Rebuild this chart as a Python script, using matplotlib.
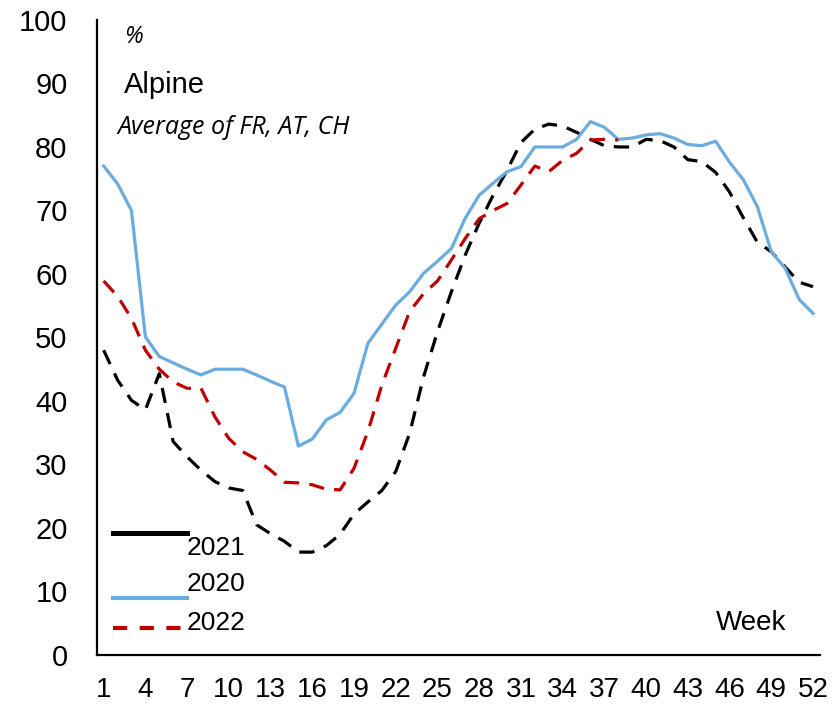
import matplotlib
matplotlib.use("Agg")
import matplotlib.pyplot as plt
from matplotlib.lines import Line2D
from matplotlib import font_manager

# ---------------- data ----------------
weeks = list(range(1, 53))
tick_weeks = [1, 4, 7, 10, 13, 16, 19, 22, 25, 28, 31, 34, 37, 40, 43, 46, 49, 52]
y_ticks = [0, 10, 20, 30, 40, 50, 60, 70, 80, 90, 100]

s2021 = [48.0, 43.3, 40.1, 38.6, 44.3, 33.6, 31.2, 29.1, 27.3, 26.3,
         25.9, 20.5, 19.1, 17.9, 16.2, 16.2, 17.2, 19.0, 22.2, 24.1,
         25.9, 28.9, 34.9, 43.8, 50.9, 57.2, 63.0, 68.0, 72.4, 76.3,
         80.7, 82.8, 83.6, 83.3, 82.3, 81.2, 80.2, 80.0, 80.0, 81.2,
         81.0, 80.0, 78.0, 77.7, 76.0, 72.9, 68.8, 65.0, 63.5, 61.1,
         58.7, 58.0]

s2020 = [77.0, 74.2, 70.0, 50.1, 47.0, 46.0, 45.0, 44.1, 45.0, 45.0,
         45.0, 44.1, 43.1, 42.2, 32.9, 34.0, 37.0, 38.2, 41.2, 49.1,
         52.1, 55.1, 57.2, 60.1, 62.0, 64.0, 68.8, 72.4, 74.3, 76.1,
         76.9, 80.0, 80.0, 80.0, 81.2, 84.0, 83.1, 81.2, 81.4, 81.9,
         82.1, 81.4, 80.4, 80.2, 80.9, 77.6, 74.8, 70.6, 63.5, 60.9,
         56.0, 53.8]

s2022 = [58.9, 56.5, 53.0, 48.0, 45.0, 43.0, 42.0, 42.0, 37.5, 34.1,
         32.0, 30.8, 29.1, 27.2, 27.1, 26.8, 26.1, 26.0, 29.4, 35.2,
         42.5, 48.3, 54.1, 56.9, 58.9, 62.2, 65.6, 68.7, 70.0, 71.1,
         74.0, 77.0, 76.1, 77.9, 79.0, 81.1, 81.2, 81.1]

# ---------------- fonts ----------------
avail = {f.name for f in font_manager.fontManager.ttflist}
narrow = ["Liberation Sans Narrow", "Liberation Sans"] if "Liberation Sans Narrow" in avail else ["Liberation Sans"]
regular = ["Liberation Sans", "DejaVu Sans"]
ital = ["Open Sans", "DejaVu Sans"]

plt.rcParams["font.family"] = regular

fig = plt.figure(figsize=(8.35, 7.08), dpi=100)
ax = fig.add_axes([0.1158, 0.0749, 0.8662, 0.8969])

c2021 = "#000000"
c2020 = "#6AACE0"
c2022 = "#C00000"
lw = 2.3

ax.plot(weeks, s2021, color=c2021, lw=lw, linestyle=(0, (4.8, 3.2)), zorder=2)
ax.plot(weeks, s2020, color=c2020, lw=lw, zorder=3)
ax.plot(weeks[:len(s2022)], s2022, color=c2022, lw=lw, linestyle=(0, (4.8, 3.2)), zorder=4)

ax.set_xlim(0.5, 52.5)
ax.set_ylim(0, 100)
ax.set_xticks(tick_weeks)
ax.set_xticklabels([str(t) for t in tick_weeks], fontfamily=narrow, fontsize=20)
ax.set_yticks(y_ticks)
ax.set_yticklabels([str(t) for t in y_ticks], fontfamily=regular, fontsize=21)
ax.tick_params(axis="x", length=0, pad=16)
ax.tick_params(axis="y", length=0, pad=21)

for s in ["top", "right"]:
    ax.spines[s].set_visible(False)
for s in ["left", "bottom"]:
    ax.spines[s].set_linewidth(1.6)
    ax.spines[s].set_color("black")

# titles / annotations
ax.text(0.038, 0.973, "%", transform=ax.transAxes, fontfamily=ital, style="italic",
        fontsize=17, va="center", ha="left")
ax.text(0.037, 0.898, "Alpine", transform=ax.transAxes, fontfamily=regular,
        fontsize=21, va="center", ha="left")
ax.text(0.029, 0.830, "Average of FR, AT, CH", transform=ax.transAxes, fontfamily=ital,
        style="italic", fontsize=18, va="center", ha="left")
ax.text(0.954, 0.050, "Week", transform=ax.transAxes, fontfamily=narrow,
        fontsize=20, va="center", ha="right")

# legend (manual, Excel-like)
leg = [("2021", c2021, "-", 0.192, 0.1685),
       ("2020", c2020, "-", 0.0898, 0.112),
       ("2022", c2022, (0, (3.4, 3.0)), 0.0425, 0.0504)]
for label, col, ls, yl, yt in leg:
    ax.add_line(Line2D([0.0225, 0.125], [yl, yl], transform=ax.transAxes,
                       color=col, lw=3.0 if label != "2021" else 3.6, linestyle=ls, clip_on=False))
    ax.text(0.125, yt, label, transform=ax.transAxes, fontfamily=narrow,
            fontsize=19, va="center", ha="left")

fig.savefig("out.png", dpi=100)
